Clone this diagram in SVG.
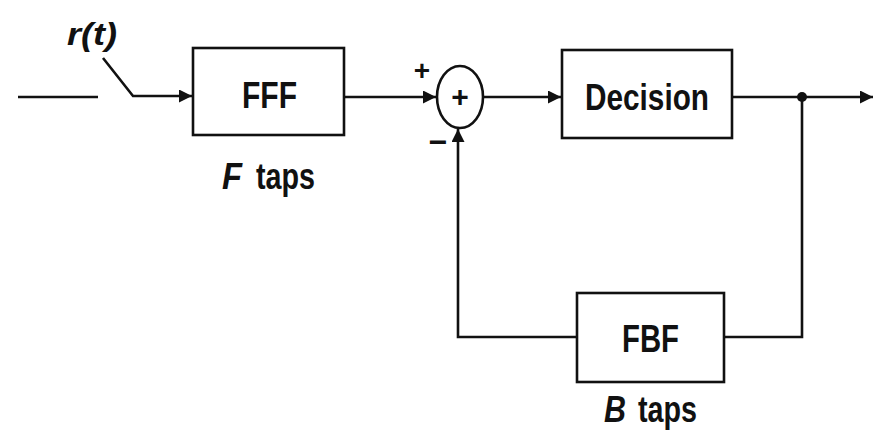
<svg xmlns="http://www.w3.org/2000/svg" width="879" height="436" viewBox="0 0 879 436">
<style>
.ln{fill:none;stroke:#111;stroke-width:2.6}
.bx{fill:#fff;stroke:#111;stroke-width:2.6}
.t{font-family:"Liberation Sans",Arial,sans-serif;font-weight:bold;fill:#111}
.i{font-style:italic}
</style>
<defs>
<marker id="ah" viewBox="0 0 10 10" refX="10" refY="5" markerWidth="22" markerHeight="13" markerUnits="userSpaceOnUse" orient="auto">
<path d="M0,0 L10,5 L0,10 Z" fill="#111"/>
</marker>
</defs>
<rect width="879" height="436" fill="#fff"/>
<g id="connectors">
<line class="ln" x1="18" y1="97" x2="98" y2="97"/>
<polyline class="ln" points="103,58 133,96 192,96" marker-end="url(#ah)"/>
<line class="ln" x1="344" y1="97" x2="436" y2="97" marker-end="url(#ah)"/>
<line class="ln" x1="483" y1="97" x2="561" y2="97" marker-end="url(#ah)"/>
<line class="ln" x1="732" y1="97" x2="873" y2="97" marker-end="url(#ah)"/>
<circle cx="802" cy="97" r="5" fill="#111"/>
<polyline class="ln" points="802,97 802,337 724,337"/>
<polyline class="ln" points="577,337 458,337 458,129" marker-end="url(#ah)"/>
</g>
<g id="input-label">
<text class="t i" x="67" y="45" font-size="32" textLength="50" lengthAdjust="spacingAndGlyphs">r(t)</text>
</g>
<g id="fff">
<rect class="bx" x="193" y="48" width="151" height="87"/>
<text class="t" x="242" y="108" font-size="36" textLength="55" lengthAdjust="spacingAndGlyphs">FFF</text>
<text class="t i" x="222" y="189" font-size="36" textLength="20" lengthAdjust="spacingAndGlyphs">F</text>
<text class="t" x="256" y="189" font-size="36" textLength="59" lengthAdjust="spacingAndGlyphs">taps</text>
</g>
<g id="sum">
<ellipse class="bx" cx="460" cy="97" rx="23" ry="31"/>
<text class="t" x="460" y="107" font-size="30" text-anchor="middle">+</text>
<text class="t" x="422" y="80" font-size="28" text-anchor="middle">+</text>
<text class="t" x="438" y="153" font-size="32" text-anchor="middle">−</text>
</g>
<g id="decision">
<rect class="bx" x="562" y="50" width="170" height="88"/>
<text class="t" x="585" y="110" font-size="37" textLength="124" lengthAdjust="spacingAndGlyphs">Decision</text>
</g>
<g id="fbf">
<rect class="bx" x="577" y="293" width="147" height="89"/>
<text class="t" x="622" y="352" font-size="38" textLength="57" lengthAdjust="spacingAndGlyphs">FBF</text>
<text class="t i" x="604" y="422" font-size="36" textLength="22" lengthAdjust="spacingAndGlyphs">B</text>
<text class="t" x="638" y="422" font-size="36" textLength="59" lengthAdjust="spacingAndGlyphs">taps</text>
</g>
</svg>
